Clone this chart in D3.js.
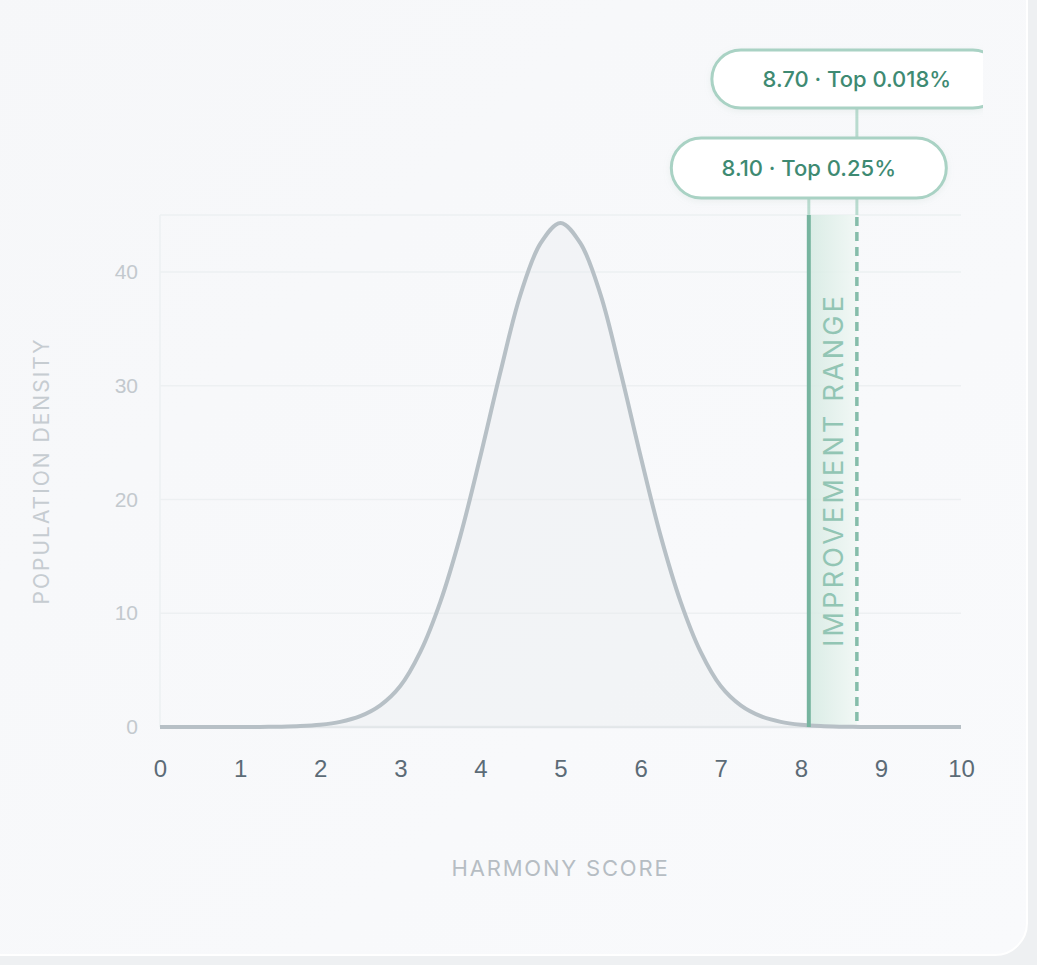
<!DOCTYPE html>
<html>
<head>
<meta charset="utf-8">
<script src="https://cdn.jsdelivr.net/npm/d3@7"></script>
<style>
  html, body { margin: 0; padding: 0; background: #eef0f2; }
  svg { display: block; font-family: Inter, "Noto Sans", sans-serif; }
</style>
</head>
<body>
<div id="chart"></div>
<script>
// harmony score samples and population density
var scores = [0, 0.25, 0.5, 0.75, 1, 1.25, 1.5, 1.75, 2, 2.25, 2.5, 2.75, 3, 3.25, 3.5, 3.75, 4, 4.25, 4.5, 4.75,
  5, 5.25, 5.5, 5.75, 6, 6.25, 6.5, 6.75, 7, 7.25, 7.5, 7.75, 8, 8.25, 8.5, 8.75, 9, 9.25, 9.5, 9.75, 10];
var density = [0, 0, 0, 0, 0, 0.01, 0.03, 0.08, 0.2, 0.45, 0.95, 1.9, 3.6, 6.6, 11.0, 16.8, 23.8, 31.2, 38.0, 42.5,
  44.3, 42.5, 38.0, 31.2, 23.8, 16.8, 11.0, 6.6, 3.6, 1.9, 0.95, 0.45, 0.2, 0.08, 0.03, 0.01, 0, 0, 0, 0, 0];

var xTicks = [0, 1, 2, 3, 4, 5, 6, 7, 8, 9, 10];
var yTicks = [0, 10, 20, 30, 40];

// improvement range markers
var markers = [
  {score: 8.10, label: "8.10 \u00b7 Top 0.25%"},
  {score: 8.70, label: "8.70 \u00b7 Top 0.018%"}
];

var W = 1037, H = 965;
var margin = {top: 215, right: 76, bottom: 238, left: 160},
    width = W - margin.left - margin.right,
    height = H - margin.top - margin.bottom;

var svg = d3.select("#chart").append("svg")
  .attr("width", W)
  .attr("height", H);

var defs = svg.append("defs");
var bg = defs.append("linearGradient").attr("id", "cardBg")
  .attr("x1", "0").attr("y1", "0").attr("x2", "1").attr("y2", "1");
bg.append("stop").attr("offset", "0").attr("stop-color", "#f6f7f9");
bg.append("stop").attr("offset", "1").attr("stop-color", "#f9fafc");

var band = defs.append("linearGradient").attr("id", "bandFill")
  .attr("x1", "0").attr("y1", "0").attr("x2", "1").attr("y2", "0");
band.append("stop").attr("offset", "0").attr("stop-color", "#d5eae2");
band.append("stop").attr("offset", "1").attr("stop-color", "#f0f7f4");

defs.append("clipPath").attr("id", "cardClip")
  .append("rect").attr("x", 0).attr("y", 0).attr("width", 983).attr("height", H);

var shadow = defs.append("filter").attr("id", "pillShadow")
  .attr("x", "-20%").attr("y", "-40%").attr("width", "140%").attr("height", "180%");
shadow.append("feDropShadow").attr("dx", 0).attr("dy", 2).attr("stdDeviation", 3)
  .attr("flood-color", "#9fb5ad").attr("flood-opacity", 0.15);

// card
svg.append("rect")
  .attr("x", -30).attr("y", -40)
  .attr("width", 1057).attr("height", 995)
  .attr("rx", 32)
  .attr("fill", "url(#cardBg)")
  .attr("stroke", "#ffffff")
  .attr("stroke-width", 2);

var g = svg.append("g")
  .attr("transform", "translate(" + margin.left + "," + margin.top + ")");

var x = d3.scaleLinear().domain([0, 10]).range([0, width]);
var y = d3.scaleLinear().domain([0, 45]).range([height, 0]);

// grid
g.append("g")
  .selectAll("line")
  .data(yTicks.concat([45]))
  .enter().append("line")
    .attr("x1", 0).attr("x2", width)
    .attr("y1", function(d) { return y(d); })
    .attr("y2", function(d) { return y(d); })
    .attr("stroke", function(d) { return d === 0 ? "#e2e6e9" : "#edf0f2"; })
    .attr("stroke-width", function(d) { return d === 0 ? 2.5 : 1.5; });

g.append("line")
  .attr("x1", 0).attr("x2", 0)
  .attr("y1", 0).attr("y2", height)
  .attr("stroke", "#edf0f2")
  .attr("stroke-width", 1.5);

// y axis labels
var yAxis = g.append("g")
  .call(d3.axisLeft(y).tickValues(yTicks).tickSize(0).tickPadding(22));
yAxis.select(".domain").remove();
yAxis.selectAll("text")
  .attr("fill", "#c3c9ce")
  .style("font-size", "21px");

// x axis labels
var xAxis = g.append("g")
  .attr("transform", "translate(0," + height + ")")
  .call(d3.axisBottom(x).tickValues(xTicks).tickFormat(d3.format("d")).tickSize(0).tickPadding(33));
xAxis.select(".domain").remove();
xAxis.selectAll("text")
  .attr("fill", "#5c6b76")
  .style("font-size", "24px");

// axis titles
svg.append("text")
  .attr("transform", "translate(49," + (margin.top + height / 2) + ")rotate(-90)")
  .attr("text-anchor", "middle")
  .attr("fill", "#c6ccd1")
  .style("font-size", "21px")
  .style("letter-spacing", "2px")
  .text("POPULATION DENSITY");

svg.append("text")
  .attr("x", margin.left + x(5))
  .attr("y", 876)
  .attr("text-anchor", "middle")
  .attr("fill", "#b6bdc3")
  .style("font-size", "22px")
  .style("letter-spacing", "1.8px")
  .text("HARMONY SCORE");

// improvement band
var lo = markers[0].score, hi = markers[1].score;
g.append("rect")
  .attr("x", x(lo)).attr("y", 0)
  .attr("width", x(hi) - x(lo))
  .attr("height", height)
  .attr("fill", "url(#bandFill)")
  .attr("opacity", 0.85);

// density curve
var pts = scores.map(function(s, i) { return [s, density[i]]; });

g.append("path")
  .datum(pts)
  .attr("d", d3.area()
    .x(function(d) { return x(d[0]); })
    .y0(y(0))
    .y1(function(d) { return y(d[1]); })
    .curve(d3.curveCatmullRom))
  .attr("fill", "#e9ecef")
  .attr("opacity", 0.35);

g.append("path")
  .datum(pts)
  .attr("d", d3.line()
    .x(function(d) { return x(d[0]); })
    .y(function(d) { return y(d[1]); })
    .curve(d3.curveCatmullRom))
  .attr("fill", "none")
  .attr("stroke", "#b7c0c6")
  .attr("stroke-width", 4);

// marker lines
g.append("line")
  .attr("x1", x(lo)).attr("x2", x(lo))
  .attr("y1", 0).attr("y2", height)
  .attr("stroke", "#76b49f")
  .attr("stroke-width", 4);

g.append("line")
  .attr("x1", x(hi)).attr("x2", x(hi))
  .attr("y1", 2).attr("y2", height)
  .attr("stroke", "#85bdaa")
  .attr("stroke-width", 3.5)
  .attr("stroke-dasharray", "9,6");

g.append("text")
  .attr("transform", "translate(" + (x((lo + hi) / 2) + 10) + "," + (y(22.6)) + ")rotate(-90)")
  .attr("text-anchor", "middle")
  .attr("fill", "#92c5b4")
  .style("font-size", "27px")
  .style("letter-spacing", "3.2px")
  .text("IMPROVEMENT RANGE");

// pills and connectors
var pillTop = [138, 50], pillH = [60, 58], pillW = [275, 290];
var pillCx = [x(lo) + margin.left, x(hi) + margin.left];

var conn = svg.append("g").attr("stroke", "#b9dbcf").attr("stroke-width", 3);
conn.append("line")
  .attr("x1", pillCx[0]).attr("x2", pillCx[0])
  .attr("y1", pillTop[0] + pillH[0]).attr("y2", margin.top);
conn.append("line")
  .attr("x1", pillCx[1]).attr("x2", pillCx[1])
  .attr("y1", pillTop[0] + pillH[0]).attr("y2", margin.top);
conn.append("line")
  .attr("x1", pillCx[1]).attr("x2", pillCx[1])
  .attr("y1", pillTop[1] + pillH[1]).attr("y2", pillTop[0]);

var pills = svg.append("g").attr("clip-path", "url(#cardClip)")
  .selectAll("g.pill")
  .data(markers)
  .enter().append("g")
    .attr("class", "pill");

pills.append("rect")
  .attr("x", function(d, i) { return pillCx[i] - pillW[i] / 2; })
  .attr("y", function(d, i) { return pillTop[i]; })
  .attr("width", function(d, i) { return pillW[i]; })
  .attr("height", function(d, i) { return pillH[i]; })
  .attr("rx", function(d, i) { return pillH[i] / 2; })
  .attr("fill", "#ffffff")
  .attr("stroke", "#a9d2c4")
  .attr("stroke-width", 3)
  .attr("filter", "url(#pillShadow)");

pills.append("text")
  .attr("x", function(d, i) { return pillCx[i]; })
  .attr("y", function(d, i) { return pillTop[i] + pillH[i] / 2; })
  .attr("dy", "0.36em")
  .attr("text-anchor", "middle")
  .attr("fill", "#3e8a72")
  .style("font-size", "22px")
  .style("font-weight", 500)
  .text(function(d) { return d.label; });
</script>
</body>
</html>
